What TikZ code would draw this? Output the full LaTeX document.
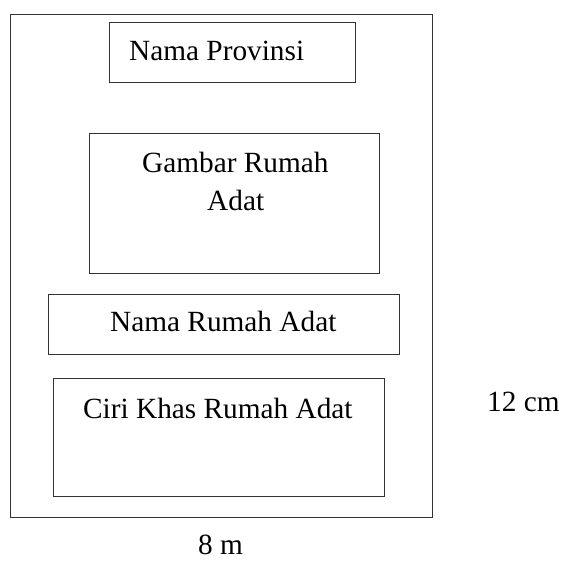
\documentclass[tikz,border=0pt]{standalone}
\usepackage{fontspec}
\setmainfont{Liberation Serif}
\begin{document}
\begin{tikzpicture}[x=1pt,y=-1pt,
  frame/.style={draw=black!80, line width=1pt, inner sep=0pt, anchor=center},
  lbl/.style={inner sep=0pt, anchor=base west, font=\fontsize{29.3}{38}\selectfont}]
\useasboundingbox (0,0) rectangle (566,561);
% outer sheet
\node[frame, minimum width=422pt, minimum height=503pt] (sheet) at (221,266.5) {};
% inner boxes
\node[frame, minimum width=246pt, minimum height=60pt]  (prov)  at (232,53) {};
\node[frame, minimum width=290pt, minimum height=140pt] (gbr)   at (234,204) {};
\node[frame, minimum width=351pt, minimum height=60pt]  (nama)  at (223.5,325) {};
\node[frame, minimum width=331pt, minimum height=118pt] (ciri)  at (218.5,438) {};
% texts
\node[lbl] (tprov) at (129,60.5) {Nama Provinsi};
\node[lbl] (tgbr1) at (142,173) {Gambar Rumah};
\node[lbl] (tgbr2) at (207,211) {Adat};
\node[lbl] (tnama) at (110,332) {Nama Rumah Adat};
\node[lbl] (tciri) at (83,419) {Ciri Khas Rumah Adat};
% dimensions
\node[lbl] (height) at (487,412) {12 cm};
\node[lbl] (width)  at (198,555) {8 m};
\end{tikzpicture}
\end{document}
